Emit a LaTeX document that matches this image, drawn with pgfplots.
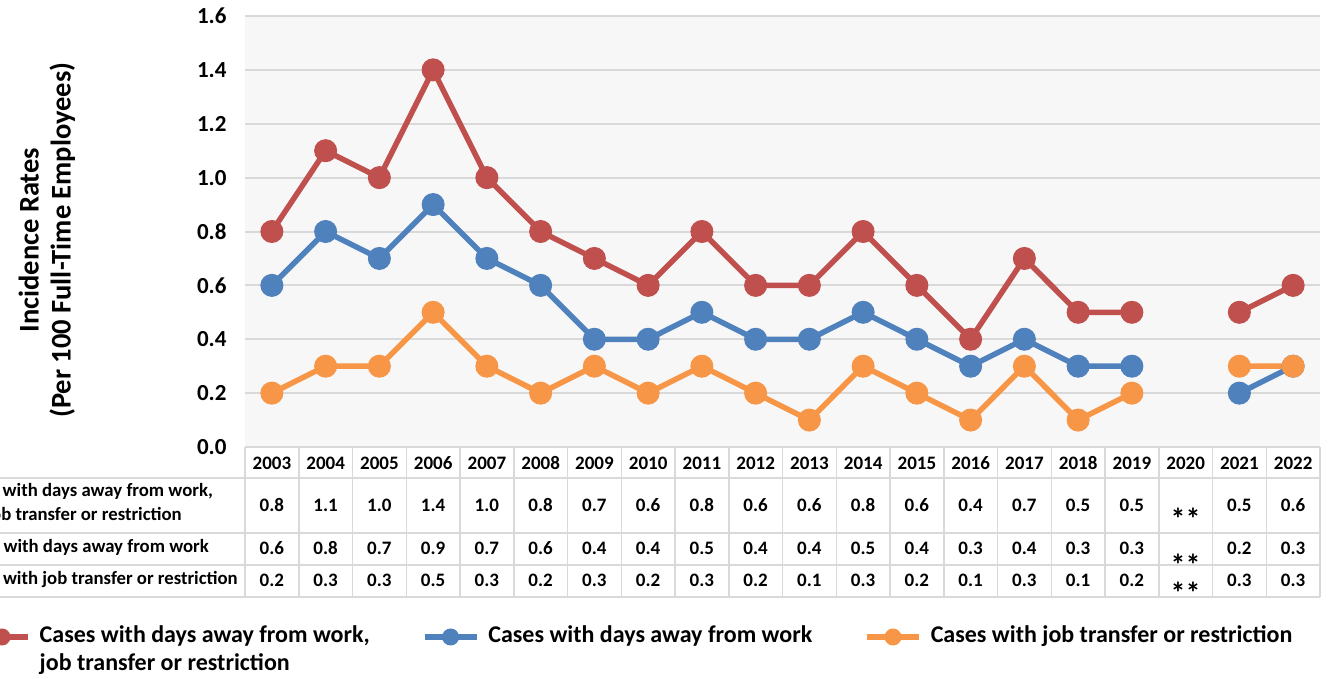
\documentclass[border=0pt]{standalone}
\usepackage{fontspec}
\setmainfont{Carlito}
\usepackage{pgfplots}
\usepackage{pgfplotstable}
\pgfplotsset{compat=1.18}
\definecolor{cred}{HTML}{C0504D}
\definecolor{cblue}{HTML}{4F81BD}
\definecolor{corange}{HTML}{F79646}
\definecolor{gridc}{HTML}{D9D9D9}
\definecolor{tabc}{HTML}{D9D9D9}
\newcommand\tabfont{\fontsize{19}{22}\selectfont\bfseries}
\newcommand\labfont{\fontsize{18.75}{22}\selectfont\bfseries}
\pgfplotstableread{
x red blue orange
0 0.8 0.6 0.2
1 1.1 0.8 0.3
2 1.0 0.7 0.3
3 1.4 0.9 0.5
4 1.0 0.7 0.3
5 0.8 0.6 0.2
6 0.7 0.4 0.3
7 0.6 0.4 0.2
8 0.8 0.5 0.3
9 0.6 0.4 0.2
10 0.6 0.4 0.1
11 0.8 0.5 0.3
12 0.6 0.4 0.2
13 0.4 0.3 0.1
14 0.7 0.4 0.3
15 0.5 0.3 0.1
16 0.5 0.3 0.2
17 nan nan nan
18 0.5 0.2 0.3
19 0.6 0.3 0.3
}\datatable
\begin{document}
\begin{tikzpicture}[x=1pt,y=1pt]
\useasboundingbox (0,0) rectangle (1329,678);
\clip (0,0) rectangle (1329,678);
\begin{axis}[
  at={(245pt,231pt)}, anchor=south west, scale only axis,
  width=1075pt, height=431pt,
  xmin=-0.5, xmax=19.5, ymin=0, ymax=1.6,
  xtick=\empty, ytick={0,0.2,0.4,0.6,0.8,1.0,1.2,1.4,1.6},
  axis line style={draw=none}, major tick length=0pt,
  ymajorgrids, grid style={gridc, line width=2pt},
  axis background/.style={fill=black!3},
  yticklabel style={font=\fontsize{23}{26}\selectfont\bfseries, xshift=-15pt,
    /pgf/number format/.cd, fixed, fixed zerofill, precision=1, assume math mode=true},
  ylabel={Incidence Rates\\(Per 100 Full-Time Employees)},
  ylabel style={align=center, font=\fontsize{28.5}{32}\selectfont\bfseries,
    at={(axis description cs:-0.1842,0.480)}, anchor=center},
  unbounded coords=jump,
  legend columns=3,
  legend style={at={(axis description cs:-0.2530,-0.4408)}, anchor=west,
    draw=none, fill=none, inner sep=0pt, row sep=0pt,
    font=\fontsize{24}{28}\selectfont\bfseries,
    /tikz/every odd column/.append style={column sep=7pt},
    /tikz/every even column/.append style={column sep=50pt, nodes={text height=16pt, text depth=5pt}}},
  legend cell align=left,
  legend image code/.code={\draw[mark repeat=2,mark phase=2,#1,mark size=8pt] plot coordinates {(0pt,0pt)(26pt,0pt)(52pt,0pt)};},
]
\addplot[cred, line width=5.5pt, mark=*, mark size=11pt, mark options={line width=1pt}] table[x=x,y=red] {\datatable};
\addlegendentry{\vtop{\hbox{Cases with days away from work,}\hbox{job transfer or restriction}}}
\addplot[cblue, line width=5.5pt, mark=*, mark size=11pt, mark options={line width=1pt}] table[x=x,y=blue] {\datatable};
\addlegendentry{Cases with days away from work}
\addplot[corange, line width=5.5pt, mark=*, mark size=11pt, mark options={line width=1pt}] table[x=x,y=orange] {\datatable};
\addlegendentry{Cases with job transfer or restriction}
\end{axis}
% data table grid
\begin{scope}[draw=tabc, line width=1.5pt]
\draw (245,231) -- (1320,231);
\foreach \yy in {200,145,113,81} \draw (0,\yy) -- (1320,\yy);
\foreach \k in {0,...,20} \draw ({245+53.75*\k},231) -- ({245+53.75*\k},81);
\end{scope}
\foreach \yr [count=\i from 0] in {2003,2004,...,2022}
  \node[font=\tabfont, inner sep=0pt] at ({271.875+53.75*\i},215) {\yr};
\foreach \v [count=\i from 0] in {0.8,1.1,1.0,1.4,1.0,0.8,0.7,0.6,0.8,0.6,0.6,0.8,0.6,0.4,0.7,0.5,0.5,{},0.5,0.6}
  \node[font=\tabfont, inner sep=0pt] at ({271.875+53.75*\i},173) {\v};
\foreach \v [count=\i from 0] in {0.6,0.8,0.7,0.9,0.7,0.6,0.4,0.4,0.5,0.4,0.4,0.5,0.4,0.3,0.4,0.3,0.3,{},0.2,0.3}
  \node[font=\tabfont, inner sep=0pt] at ({271.875+53.75*\i},130) {\v};
\foreach \v [count=\i from 0] in {0.2,0.3,0.3,0.5,0.3,0.2,0.3,0.2,0.3,0.2,0.1,0.3,0.2,0.1,0.3,0.1,0.2,{},0.3,0.3}
  \node[font=\tabfont, inner sep=0pt] at ({271.875+53.75*\i},98) {\v};
\foreach \yy in {165,119,91}
  \node[font=\fontsize{30}{30}\selectfont\bfseries, inner sep=0pt, anchor=base] at ({271.875+53.75*17},{\yy-16}) {**};
\node[font=\labfont, inner sep=0pt, anchor=mid east] at (213,184) {Cases with days away from work,};
\node[font=\labfont, inner sep=0pt, anchor=mid east] at (182,160) {job transfer or restriction};
\node[font=\labfont, inner sep=0pt, anchor=mid east] at (209,128) {Cases with days away from work};
\node[font=\labfont, inner sep=0pt, anchor=mid east] at (238,96) {Cases with job transfer or restriction};
\end{tikzpicture}
\end{document}
